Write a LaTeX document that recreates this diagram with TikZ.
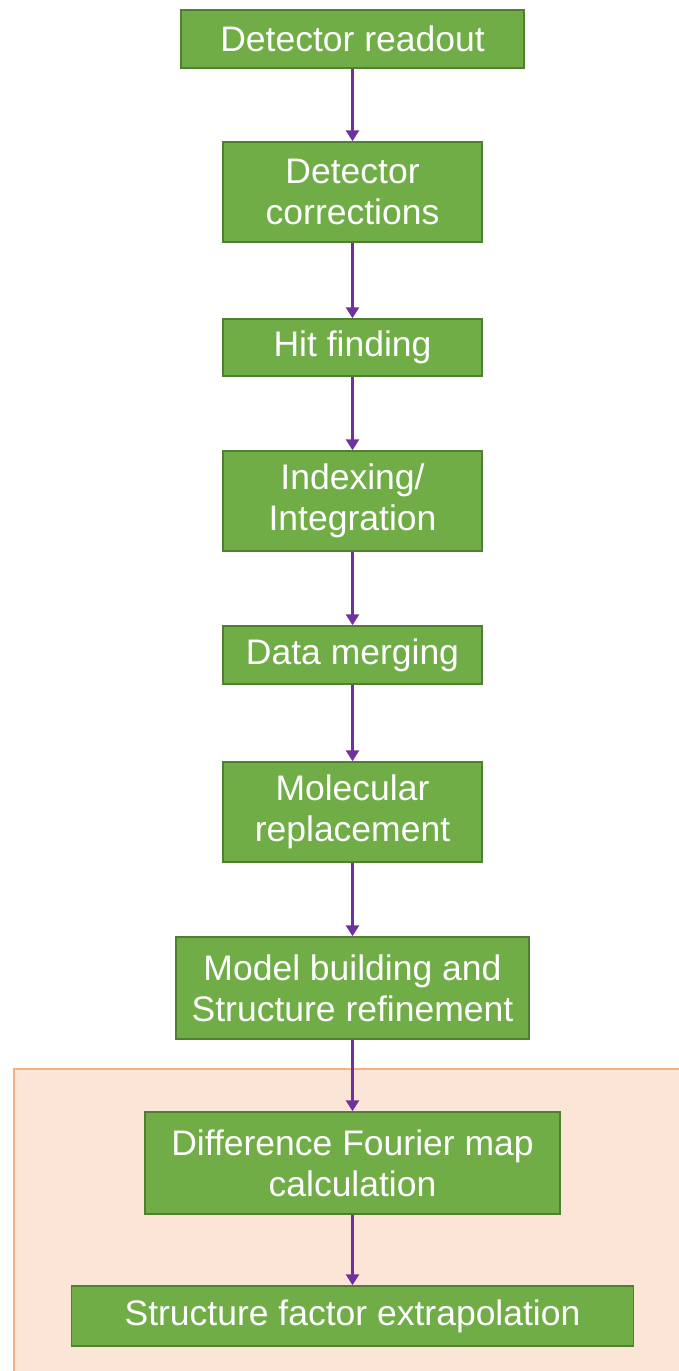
\documentclass[tikz,border=0pt]{standalone}
\usepackage{fontspec}
\setmainfont{Liberation Sans}
\usetikzlibrary{arrows.meta}
\definecolor{boxgreen}{HTML}{70AD47}
\definecolor{boxedge}{HTML}{507E32}
\definecolor{flowpurple}{HTML}{7030A0}
\definecolor{areafill}{HTML}{FBE5D6}
\definecolor{areaedge}{HTML}{F4B183}

\tikzset{
  stepbox/.style={draw=boxedge, fill=boxgreen, line width=1.5pt, text=white,
    align=center, font=\fontsize{35.5}{41}\selectfont, inner sep=0pt},
  flow/.style={draw=flowpurple, line width=3.5pt, -{Triangle[width=13pt,length=11pt]}}
}

\begin{document}
\begin{tikzpicture}[x=1pt,y=-1pt]
\useasboundingbox (0,0) rectangle (679,1371);

% Shaded area at the bottom
\draw[fill=areafill, draw=areaedge, line width=2pt] (14,1069) rectangle (700,1390);

% Boxes
\node[stepbox, minimum width=343pt, minimum height=58pt] (readout) at (352.5,39) {Detector readout};
\node[stepbox, minimum width=259pt, minimum height=100pt] (corr) at (352.5,192) {Detector\\corrections};
\node[stepbox, minimum width=259pt, minimum height=57pt] (hit) at (352.5,347.5) {Hit finding};
\node[stepbox, minimum width=259pt, minimum height=100pt] (index) at (352.5,501) {Indexing/\\Integration};
\node[stepbox, minimum width=259pt, minimum height=58pt] (merge) at (352.5,655) {Data merging};
\node[stepbox, minimum width=259pt, minimum height=100pt] (molrep) at (352.5,812) {Molecular\\replacement};
\node[stepbox, minimum width=353pt, minimum height=102pt] (model) at (352.5,988) {Model building and\\Structure refinement};
\node[stepbox, minimum width=415pt, minimum height=102pt] (diffmap) at (352.5,1163) {Difference Fourier map\\calculation};
\node[stepbox, minimum width=562pt, minimum height=60pt] (sfext) at (352.5,1316) {Structure factor extrapolation};

% Arrows
\draw[flow] (readout) -- (corr);
\draw[flow] (corr) -- (hit);
\draw[flow] (hit) -- (index);
\draw[flow] (index) -- (merge);
\draw[flow] (merge) -- (molrep);
\draw[flow] (molrep) -- (model);
\draw[flow] (model) -- (diffmap);
\draw[flow] (diffmap) -- (sfext);

\end{tikzpicture}
\end{document}
